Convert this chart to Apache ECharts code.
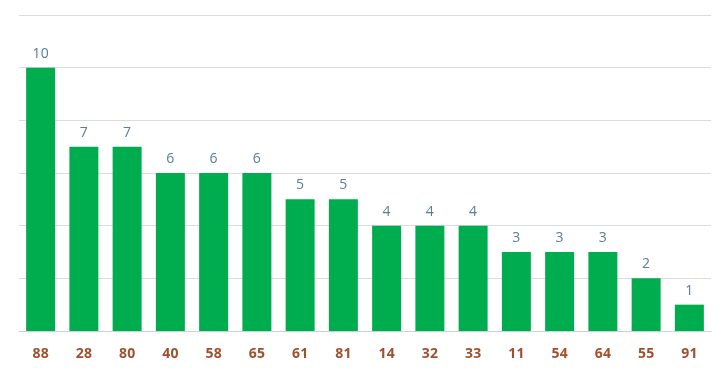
<!DOCTYPE html>
<html><head><meta charset="utf-8">
<script src="https://cdn.jsdelivr.net/npm/echarts@6/dist/echarts.min.js"></script>
<style>html,body{margin:0;padding:0;background:#fff}#c{width:721px;height:373px}</style>
</head><body><div id="c"></div>
<script>
var categories = ['88','28','80','40','58','65','61','81','14','32','33','11','54','64','55','91'];
var values = [10,7,7,6,6,6,5,5,4,4,4,3,3,3,2,1];
var chart = echarts.init(document.getElementById('c'));
chart.setOption({
  animation: false,
  grid: {left: 19, right: 10, top: 15, bottom: 42},
  xAxis: {
    type: 'category', data: categories,
    axisLine: {lineStyle: {color: '#d0d0d0'}},
    axisTick: {show: false},
    axisLabel: {color: '#a0502e', fontWeight: 'bold', fontSize: 14, fontFamily: 'Open Sans', margin: 16}
  },
  yAxis: {
    type: 'value', min: 0, max: 12, interval: 2,
    axisLabel: {show: false},
    axisLine: {show: false}, axisTick: {show: false},
    splitLine: {lineStyle: {color: '#dcdcdc'}}
  },
  series: [{
    type: 'bar', data: values, barWidth: '67%',
    itemStyle: {color: '#00ad4e'},
    label: {show: true, position: 'top', color: '#5b7d95', fontSize: 14, fontFamily: 'Open Sans', distance: 7}
  }]
});
</script></body></html>
